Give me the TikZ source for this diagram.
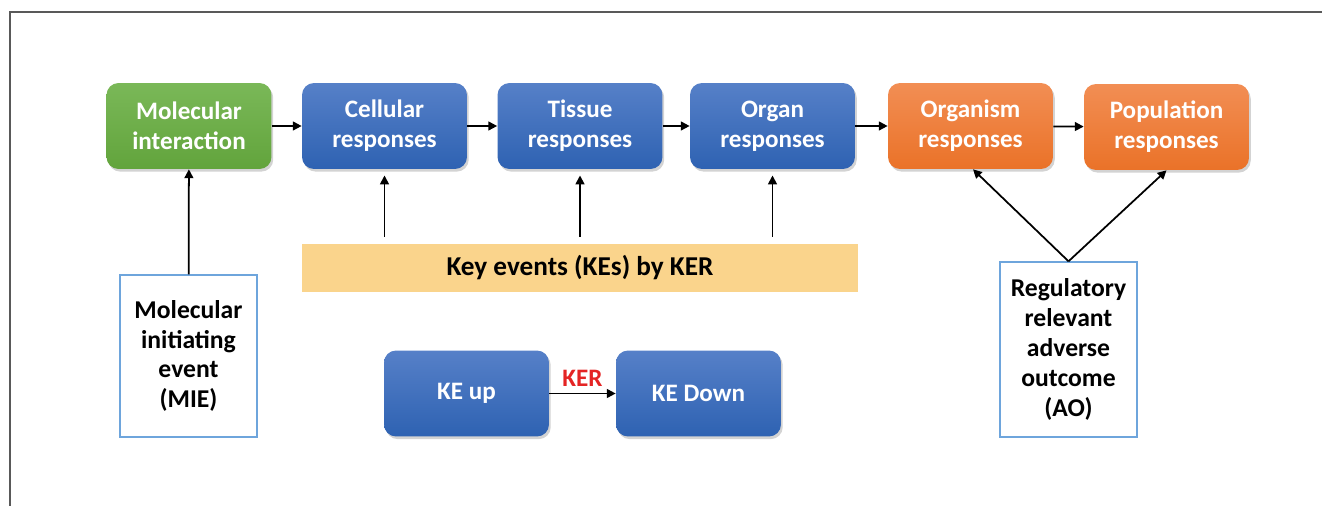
\documentclass[tikz,border=0pt]{standalone}
\usepackage{fontspec}
\setmainfont{Carlito}
\usetikzlibrary{arrows.meta,shadows}

\definecolor{aopgreentop}{RGB}{122,184,88}
\definecolor{aopgreenbot}{RGB}{98,164,60}
\definecolor{aopbluetop}{RGB}{86,128,200}
\definecolor{aopbluebot}{RGB}{46,98,178}
\definecolor{aoporangetop}{RGB}{242,142,84}
\definecolor{aoporangebot}{RGB}{234,114,40}
\definecolor{aopyellow}{RGB}{250,212,140}
\definecolor{aopframe}{RGB}{110,165,220}
\definecolor{aopred}{RGB}{228,36,36}

\tikzset{
  stage/.style={rounded corners=0.24cm, minimum width=3.3cm, minimum height=1.72cm,
    text=white, align=center, font=\fontsize{14.3}{17}\selectfont\bfseries,
    drop shadow={opacity=0.35, shadow xshift=1pt, shadow yshift=-1.5pt}},
  greenstage/.style={stage, top color=aopgreentop, bottom color=aopgreenbot},
  bluestage/.style={stage, top color=aopbluetop, bottom color=aopbluebot},
  orangestage/.style={stage, top color=aoporangetop, bottom color=aoporangebot},
  eventbox/.style={draw=aopframe, line width=0.8pt, fill=white, align=center,
    font=\fontsize{14.6}{17}\selectfont\bfseries, minimum width=2.74cm},
  link/.style={-{Triangle[length=5pt,width=5pt]}, line width=1pt}
}

\begin{document}
\begin{tikzpicture}[x=0.02cm, y=-0.02cm]
	\useasboundingbox (0,0) rectangle (1322,506);
	% open frame
	\draw[line width=1.1pt, black!65] (10,506) -- (10,12) -- (1322,12);

	% levels of organisation
	\node[greenstage] (mol) at (189,126) {Molecular\\interaction};
	\node[bluestage] (cell) at (384.5,126) {Cellular\\responses};
	\node[bluestage] (tis) at (580,126) {Tissue\\responses};
	\node[bluestage] (org) at (772.5,126) {Organ\\responses};
	\node[orangestage] (orgm) at (970.5,126) {Organism\\responses};
	\node[orangestage] (pop) at (1166.5,127) {Population\\responses};
	\draw[link] (mol) -- (cell);
	\draw[link] (cell) -- (tis);
	\draw[link] (tis) -- (org);
	\draw[link] (org) -- (orgm);
	\draw[link] (orgm) -- (pop);

	% key events
	\node[fill=aopyellow, minimum width=11.12cm, minimum height=0.96cm,
		font=\fontsize{15.5}{17}\selectfont\bfseries] (ke) at (580,268) {Key events (KEs) by KER};
	\foreach \n in {cell,tis,org}
		\draw[link, shorten <=4pt, shorten >=3.5pt] (ke.north -| \n.south) -- (\n.south);

	% MIE and AO
	\node[eventbox, minimum height=3.24cm] (mie) at (188.5,356) {Molecular\\initiating\\event\\(MIE)};
	\node[eventbox, minimum height=3.5cm] (ao) at (1068.5,349.5) {Regulatory\\relevant\\adverse\\outcome\\(AO)};
	\draw[link] (mie) -- (mol);
	\draw[link] (ao.north) -- ([xshift=0.05cm]orgm.south);
	\draw[link] (ao.north) -- (pop.south);

	% KE relationship
	\node[bluestage] (keup) at (466.5,393.5) {KE up};
	\node[bluestage] (kedown) at (698.5,393.5) {KE Down};
	\draw[link] (keup) -- node[above, text=aopred, font=\fontsize{14.3}{17}\selectfont\bfseries] {KER} (kedown);
\end{tikzpicture}
\end{document}
